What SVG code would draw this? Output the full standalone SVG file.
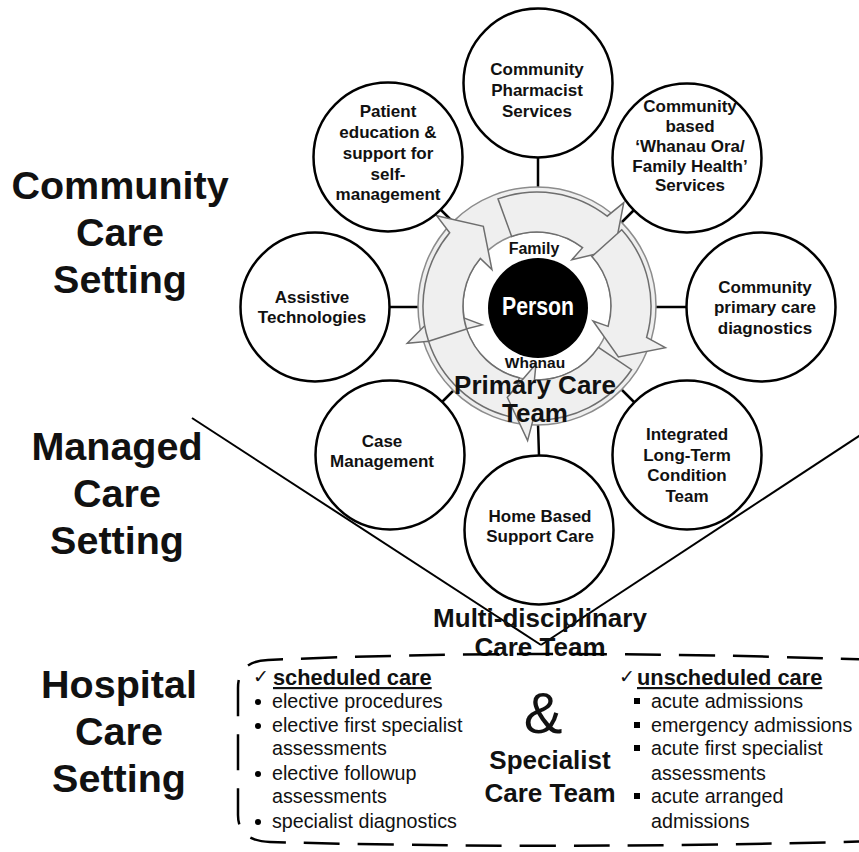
<svg xmlns="http://www.w3.org/2000/svg" xmlns:xlink="http://www.w3.org/1999/xlink" width="859" height="852" viewBox="0 0 859 852">
  <style>
    .bg { fill: #ffffff; }
    .sat { fill: #ffffff; stroke: #000000; stroke-width: 2.5; }
    .lnk { stroke: #000000; stroke-width: 2.5; fill: none; }
    .v { stroke: #000000; stroke-width: 2; fill: none; }
    .ring { fill: #efefef; stroke: #8c8c8c; stroke-width: 1.5; }
    .hole { fill: #ffffff; stroke: #8c8c8c; stroke-width: 1.5; }
    .arw { fill: #efefef; stroke: #6e6e6e; stroke-width: 1.5; stroke-linejoin: miter; }
    text { font-family: "Liberation Sans", Arial, sans-serif; fill: #111111; }
    .st { font-size: 39.5px; font-weight: bold; text-anchor: middle; }
    .nt { font-size: 17px; font-weight: bold; text-anchor: middle; }
    .big { font-size: 26px; font-weight: bold; text-anchor: middle; }
    .li { font-size: 19.7px; }
    .hd { font-size: 21.8px; font-weight: bold; text-decoration: underline; }
    .ck { font-family: "DejaVu Sans", sans-serif; font-size: 19px; }
    .dash { fill: none; stroke: #000000; stroke-width: 2.5; stroke-dasharray: 36 18; }
  </style>
  <defs>
    <!-- one curved clockwise arrow, head at angle 0 around the origin -->
    <path id="arw" d="M60.4,-96.7 A114,114 0 0 1 114,0 L134.9,4.7 L92.3,26.5 L58,-1 L74,0 A74,74 0 0 0 39.2,-62.8 Z"/>
  </defs>

  <rect class="bg" x="0" y="0" width="859" height="852"/>

  <!-- setting labels -->
  <g id="labels">
    <text class="st" x="120" y="199">Community</text>
    <text class="st" x="120" y="246">Care</text>
    <text class="st" x="120" y="293">Setting</text>
    <text class="st" x="117" y="460">Managed</text>
    <text class="st" x="117" y="507">Care</text>
    <text class="st" x="117" y="554">Setting</text>
    <text class="st" x="119" y="698">Hospital</text>
    <text class="st" x="119" y="745">Care</text>
    <text class="st" x="119" y="792">Setting</text>
  </g>

  <!-- connectors: spokes and funnel lines -->
  <g id="connectors">
    <line class="lnk" x1="538" y1="157" x2="538" y2="188"/>
    <line class="lnk" x1="621" y1="223" x2="634" y2="210"/>
    <line class="lnk" x1="655" y1="307" x2="687" y2="307"/>
    <line class="lnk" x1="621" y1="389" x2="634" y2="402"/>
    <line class="lnk" x1="538" y1="424" x2="539" y2="456"/>
    <line class="lnk" x1="454" y1="390" x2="442" y2="402"/>
    <line class="lnk" x1="419" y1="307" x2="389" y2="307"/>
    <line class="lnk" x1="453" y1="222" x2="441" y2="210"/>
    <line class="v" x1="192" y1="418" x2="541" y2="645"/>
    <line class="v" x1="541" y1="645" x2="862" y2="434"/>
  </g>

  <!-- central hub -->
  <g id="hub">
    <circle class="ring" cx="537" cy="306" r="119"/>
    <circle class="hole" cx="537" cy="306" r="74"/>
    <use xlink:href="#arw" class="arw" transform="translate(537 306) rotate(162)"/>
    <use xlink:href="#arw" class="arw" transform="translate(537 306) rotate(-140)"/>
    <use xlink:href="#arw" class="arw" transform="translate(537 306) rotate(-52)"/>
    <use xlink:href="#arw" class="arw" transform="translate(537 306) rotate(16)"/>
    <use xlink:href="#arw" class="arw" transform="translate(537 306) rotate(92)"/>
    <text x="534" y="254" font-size="16" font-weight="bold" text-anchor="middle">Family</text>
    <text x="535" y="368" font-size="15.5" font-weight="bold" text-anchor="middle">Whanau</text>
    <circle cx="538" cy="308" r="50" fill="#000000"/>
    <text x="538" y="315" font-size="25" font-weight="bold" text-anchor="middle" textLength="72" lengthAdjust="spacingAndGlyphs" style="fill:#ffffff">Person</text>
    <text class="big" x="535" y="394">Primary Care</text>
    <text class="big" x="535" y="422">Team</text>
  </g>

  <g id="pharmacist">
    <circle class="sat" cx="538" cy="83" r="74.5"/>
    <text class="nt" x="537" y="75">Community</text>
    <text class="nt" x="537" y="96">Pharmacist</text>
    <text class="nt" x="537" y="117">Services</text>
  </g>

  <g id="whanau-ora">
    <circle class="sat" cx="687" cy="158" r="74.5"/>
    <text class="nt" x="690" y="112">Community</text>
    <text class="nt" x="690" y="132">based</text>
    <text class="nt" x="690" y="152">‘Whanau Ora/</text>
    <text class="nt" x="690" y="172">Family Health’</text>
    <text class="nt" x="690" y="191">Services</text>
  </g>

  <g id="diagnostics">
    <circle class="sat" cx="761" cy="307" r="74.5"/>
    <text class="nt" x="765" y="293">Community</text>
    <text class="nt" x="765" y="313">primary care</text>
    <text class="nt" x="765" y="334">diagnostics</text>
  </g>

  <g id="long-term">
    <circle class="sat" cx="687" cy="455" r="74.5"/>
    <text class="nt" x="687" y="440">Integrated</text>
    <text class="nt" x="687" y="461">Long-Term</text>
    <text class="nt" x="687" y="481">Condition</text>
    <text class="nt" x="687" y="502">Team</text>
  </g>

  <g id="home-based">
    <circle class="sat" cx="539" cy="530" r="74.5"/>
    <text class="nt" x="540" y="522">Home Based</text>
    <text class="nt" x="540" y="542">Support Care</text>
  </g>

  <g id="case-management">
    <circle class="sat" cx="390" cy="455" r="74.5"/>
    <text class="nt" x="382" y="447">Case</text>
    <text class="nt" x="382" y="467">Management</text>
  </g>

  <g id="assistive">
    <circle class="sat" cx="315" cy="307" r="74.5"/>
    <text class="nt" x="312" y="303">Assistive</text>
    <text class="nt" x="312" y="323">Technologies</text>
  </g>

  <g id="self-management">
    <circle class="sat" cx="388" cy="157" r="74.5"/>
    <text class="nt" x="388" y="117">Patient</text>
    <text class="nt" x="388" y="138">education &amp;</text>
    <text class="nt" x="388" y="159">support for</text>
    <text class="nt" x="388" y="180">self-</text>
    <text class="nt" x="388" y="200">management</text>
  </g>

  <g id="multidisciplinary">
    <text class="big" x="540" y="627">Multi-disciplinary</text>
    <text class="big" x="540" y="656">Care Team</text>
  </g>

  <!-- hospital block -->
  <g id="specialist">
    <path class="dash" d="M880,841 Q560,850 270,842 Q238,841 238,815 L238,688 Q238,661 268,660 Q540,648 880,660"/>
    <text class="ck" x="253" y="683">✓</text>
    <text class="hd" x="273" y="685">scheduled care</text>
    <g class="li">
      <circle cx="258" cy="702" r="3"/>
      <text x="272" y="708">elective procedures</text>
      <circle cx="258" cy="726" r="3"/>
      <text x="272" y="732">elective first specialist</text>
      <text x="272" y="755">assessments</text>
      <circle cx="258" cy="774" r="3"/>
      <text x="272" y="780">elective followup</text>
      <text x="272" y="803">assessments</text>
      <circle cx="258" cy="822" r="3"/>
      <text x="272" y="828">specialist diagnostics</text>
    </g>
    <text x="543" y="733" font-size="58" text-anchor="middle">&amp;</text>
    <text class="big" x="550" y="769">Specialist</text>
    <text class="big" x="550" y="802">Care Team</text>
    <text class="ck" x="619" y="683">✓</text>
    <text class="hd" x="637" y="685">unscheduled care</text>
    <g class="li">
      <rect x="634" y="698" width="6" height="6"/>
      <text x="651" y="708">acute admissions</text>
      <rect x="634" y="722" width="6" height="6"/>
      <text x="651" y="732">emergency admissions</text>
      <rect x="634" y="745" width="6" height="6"/>
      <text x="651" y="755">acute first specialist</text>
      <text x="651" y="780">assessments</text>
      <rect x="634" y="793" width="6" height="6"/>
      <text x="651" y="803">acute arranged</text>
      <text x="651" y="828">admissions</text>
    </g>
  </g>
</svg>
